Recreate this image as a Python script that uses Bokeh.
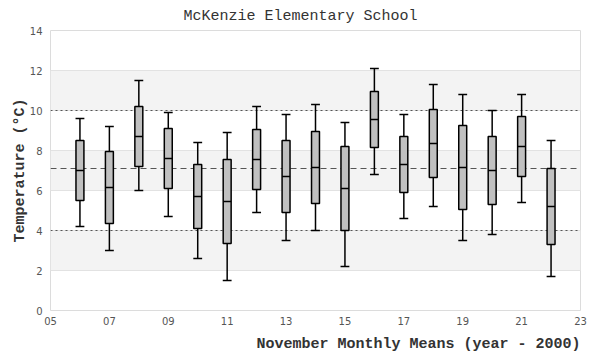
from bokeh.plotting import figure
from bokeh.models import FixedTicker, Span, Title, Range1d
from bokeh.embed import file_html
from bokeh.resources import INLINE

# ---- data ----
years = [6, 7, 8, 9, 10, 11, 12, 13, 14, 15, 16, 17, 18, 19, 20, 21, 22]
low = [4.2, 3.0, 6.0, 4.7, 2.6, 1.5, 4.9, 3.5, 4.0, 2.2, 6.8, 4.6, 5.2, 3.5, 3.8, 5.4, 1.7]
q1 = [5.5, 4.35, 7.2, 6.1, 4.1, 3.35, 6.05, 4.9, 5.35, 4.0, 8.15, 5.9, 6.65, 5.05, 5.3, 6.7, 3.3]
median = [7.0, 6.15, 8.7, 7.6, 5.7, 5.45, 7.55, 6.7, 7.15, 6.1, 9.55, 7.3, 8.35, 7.15, 7.0, 8.2, 5.2]
q3 = [8.5, 7.95, 10.2, 9.1, 7.3, 7.55, 9.05, 8.5, 8.95, 8.2, 10.95, 8.7, 10.05, 9.25, 8.7, 9.7, 7.1]
high = [9.6, 9.2, 11.5, 9.9, 8.4, 8.9, 10.2, 9.8, 10.3, 9.4, 12.1, 9.8, 11.3, 10.8, 10.0, 10.8, 8.5]

x_ticks = [5, 7, 9, 11, 13, 15, 17, 19, 21, 23]
x_tick_labels = ["05", "07", "09", "11", "13", "15", "17", "19", "21", "23"]
y_ticks = [0, 2, 4, 6, 8, 10, 12, 14]

ref_lines = [4, 10]
overall_mean = 7.1

title_text = "McKenzie Elementary School"
x_label = "November Monthly Means (year - 2000)"
y_label = "Temperature (°C)"

# ---- figure ----
MONO = "Liberation Mono"
box_w = 0.27
cap_w = 0.3

p = figure(width=592, height=360, output_backend="svg", toolbar_location=None,
           x_range=Range1d(5, 23), y_range=Range1d(0, 14),
           min_border_left=50, min_border_right=12, min_border_top=30, min_border_bottom=50)
p.background_fill_color = "white"
p.border_fill_color = "white"
p.outline_line_color = "#dcdcdc"
p.outline_line_width = 1

t = Title(text=title_text, align="left", offset=133, text_font=MONO,
          text_font_size="15px", text_font_style="normal", text_color="#333333", standoff=11)
p.add_layout(t, "above")

xt = Title(text=x_label, align="right", text_font=MONO, text_font_size="15px",
           text_font_style="bold", text_color="#333333", standoff=13)
p.add_layout(xt, "below")

p.xgrid.visible = False
p.ygrid.ticker = FixedTicker(ticks=y_ticks)
p.ygrid.grid_line_color = "#e2e2e2"
p.ygrid.grid_line_width = 1
p.ygrid.band_fill_color = "#f3f3f3"
p.ygrid.band_fill_alpha = 1.0

for ax in (p.xaxis[0], p.yaxis[0]):
    ax.axis_line_color = None
    ax.major_tick_line_color = None
    ax.minor_tick_line_color = None
    ax.major_tick_out = 0
    ax.major_tick_in = 0
    ax.minor_tick_out = 0
    ax.major_label_text_font = "DejaVu Sans"
    ax.major_label_text_font_size = "10px"
    ax.major_label_text_color = "#555555"
    ax.major_label_standoff = 8

p.xaxis.major_label_standoff = 6
p.xaxis.ticker = FixedTicker(ticks=x_ticks)
p.xaxis.major_label_overrides = {t_: l for t_, l in zip(x_ticks, x_tick_labels)}
p.yaxis.ticker = FixedTicker(ticks=y_ticks)

p.yaxis.axis_label = y_label
p.yaxis.axis_label_text_font = MONO
p.yaxis.axis_label_text_font_size = "15px"
p.yaxis.axis_label_text_font_style = "bold"
p.yaxis.axis_label_text_color = "#333333"
p.yaxis.axis_label_standoff = -2

for v in ref_lines:
    p.add_layout(Span(location=v, dimension="width", line_color="#555555",
                      line_width=1, line_dash="2 3", level="underlay"))
p.add_layout(Span(location=overall_mean, dimension="width", line_color="#555555",
                  line_width=1.2, line_dash="6 4", level="underlay"))

# whiskers
p.segment(x0=years, y0=q3, x1=years, y1=high, line_color="black", line_width=1.5)
p.segment(x0=years, y0=low, x1=years, y1=q1, line_color="black", line_width=1.5)
# caps
xl = [y - cap_w / 2 for y in years]
xr = [y + cap_w / 2 for y in years]
p.segment(x0=xl, y0=high, x1=xr, y1=high, line_color="black", line_width=1.5)
p.segment(x0=xl, y0=low, x1=xr, y1=low, line_color="black", line_width=1.5)
# boxes
p.vbar(x=years, bottom=q1, top=q3, width=box_w, fill_color="#c0c0c0",
       line_color="black", line_width=1.5)
# medians
bl = [y - box_w / 2 for y in years]
br = [y + box_w / 2 for y in years]
p.segment(x0=bl, y0=median, x1=br, y1=median, line_color="black", line_width=1.5)

open("out.html", "w").write(file_html(p, INLINE))
